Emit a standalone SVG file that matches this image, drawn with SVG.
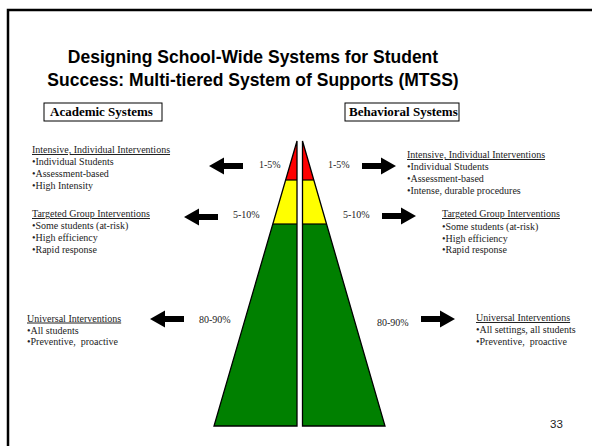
<svg xmlns="http://www.w3.org/2000/svg" width="592" height="446" viewBox="0 0 592 446">
<style>
.t{font-family:"Liberation Serif","Times New Roman",serif;font-size:10px;fill:#222;white-space:pre}
.u{text-decoration:underline}
.hd{font-family:"Liberation Serif","Times New Roman",serif;font-size:13px;font-weight:bold;fill:#000}
.title{font-family:"Liberation Sans",Arial,sans-serif;font-size:17.5px;font-weight:bold;fill:#000}
.box{fill:#fff;stroke:#000;stroke-width:1}
.edge{fill:none;stroke:#000;stroke-width:1.3;stroke-linejoin:miter}
.arr{fill:#000}
</style>
<defs>
<polygon id="arrowL" points="0,0 15,-8.5 15,-3 34,-3 34,3 15,3 15,8.5"/>
<polygon id="arrowR" points="0,0 -15,-8.5 -15,-3 -34,-3 -34,3 -15,3 -15,8.5"/>
</defs>
<rect x="0" y="0" width="592" height="446" fill="#fff"/>
<rect x="8" y="10" width="620" height="480" fill="none" stroke="#000" stroke-width="2.5"/>
<g id="title">
<text class="title" x="253" y="63" text-anchor="middle">Designing School-Wide Systems for Student</text>
<text class="title" x="253" y="86" text-anchor="middle">Success: Multi-tiered System of Supports (MTSS)</text>
</g>
<g id="academic-header">
<rect class="box" x="44" y="103" width="118" height="18"/>
<text class="hd" x="50" y="116">Academic Systems</text>
</g>
<g id="behavioral-header">
<rect class="box" x="345" y="103" width="114" height="18"/>
<text class="hd" x="349" y="116">Behavioral Systems</text>
</g>
<g id="pyramid-left">
<polygon fill="#008000" points="272.83,224 297,224 297,426 214,426"/>
<polygon fill="#FFFF00" points="285.64,180 297,180 297,224 272.83,224"/>
<polygon fill="#FF0000" points="297,141 297,180 285.64,180"/>
<line x1="285.64" y1="180" x2="297" y2="180" stroke="#000" stroke-width="1.2"/>
<line x1="272.83" y1="224" x2="297" y2="224" stroke="#000" stroke-width="1.2"/>
<polygon class="edge" points="297,141 297,426 214,426"/>
</g>
<g id="pyramid-right">
<polygon fill="#008000" points="302.5,224 326.53,224 385,426 302.5,426"/>
<polygon fill="#FFFF00" points="302.5,180 313.79,180 326.53,224 302.5,224"/>
<polygon fill="#FF0000" points="302.5,141 313.79,180 302.5,180"/>
<line x1="302.5" y1="180" x2="313.79" y2="180" stroke="#000" stroke-width="1.2"/>
<line x1="302.5" y1="224" x2="326.53" y2="224" stroke="#000" stroke-width="1.2"/>
<polygon class="edge" points="302.5,141 385,426 302.5,426"/>
</g>
<g id="connectors">
<use href="#arrowL" class="arr" x="209" y="166"/>
<use href="#arrowL" class="arr" x="184" y="217"/>
<use href="#arrowL" class="arr" x="150" y="319"/>
<use href="#arrowR" class="arr" x="396" y="166"/>
<use href="#arrowR" class="arr" x="416" y="216"/>
<use href="#arrowR" class="arr" x="455" y="319"/>
</g>
<g id="labels-left">
<text class="t" x="259" y="168">1-5%</text>
<text class="t" x="233" y="218">5-10%</text>
<text class="t" x="199" y="323">80-90%</text>
</g>
<g id="labels-right">
<text class="t" x="328" y="168">1-5%</text>
<text class="t" x="343" y="218">5-10%</text>
<text class="t" x="377" y="325.5">80-90%</text>
</g>
<g id="academic-intensive">
<text class="t u" x="32" y="153">Intensive, Individual Interventions</text>
<text class="t" x="32" y="165">•Individual Students</text>
<text class="t" x="32" y="177">•Assessment-based</text>
<text class="t" x="32" y="189">•High Intensity</text>
</g>
<g id="academic-targeted">
<text class="t u" x="32" y="217">Targeted Group Interventions</text>
<text class="t" x="32" y="229">•Some students (at-risk)</text>
<text class="t" x="32" y="241">•High efficiency</text>
<text class="t" x="32" y="253">•Rapid response</text>
</g>
<g id="academic-universal">
<text class="t u" x="27" y="321.5">Universal Interventions</text>
<text class="t" x="27" y="333.5">•All students</text>
<text class="t" x="27" y="345" xml:space="preserve">•Preventive,  proactive</text>
</g>
<g id="behavioral-intensive">
<text class="t u" x="407" y="158">Intensive, Individual Interventions</text>
<text class="t" x="407" y="170">•Individual Students</text>
<text class="t" x="407" y="182">•Assessment-based</text>
<text class="t" x="407" y="193.5">•Intense, durable procedures</text>
</g>
<g id="behavioral-targeted">
<text class="t u" x="442" y="217">Targeted Group Interventions</text>
<text class="t" x="442" y="229.5">•Some students (at-risk)</text>
<text class="t" x="442" y="241.5">•High efficiency</text>
<text class="t" x="442" y="253">•Rapid response</text>
</g>
<g id="behavioral-universal">
<text class="t u" x="476" y="321">Universal Interventions</text>
<text class="t" x="476" y="333">•All settings, all students</text>
<text class="t" x="476" y="345" xml:space="preserve">•Preventive,  proactive</text>
</g>
<g id="page-number">
<text x="550" y="428" font-family="Liberation Sans, Arial, sans-serif" font-size="11.5" fill="#222">33</text>
</g>
</svg>
